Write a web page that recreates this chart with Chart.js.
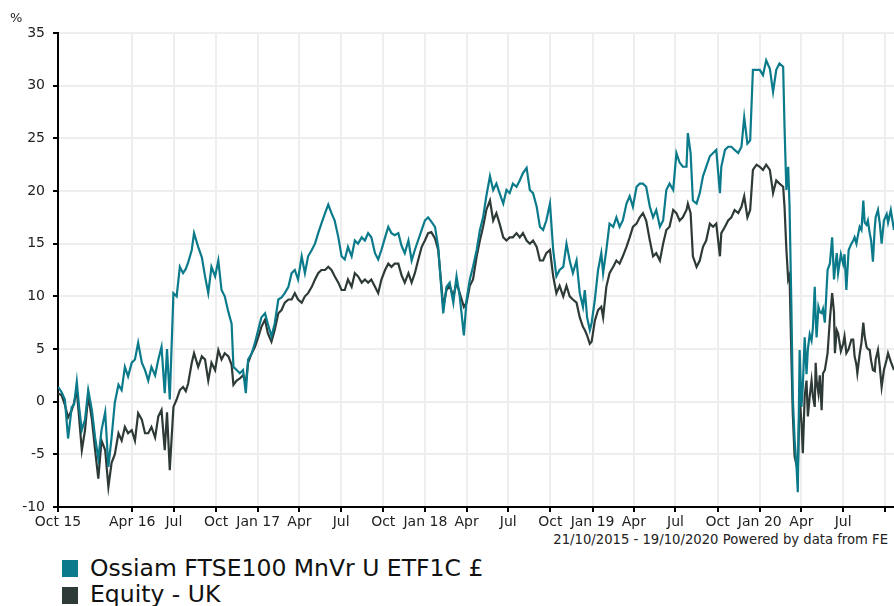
<!DOCTYPE html>
<html>
<head>
<meta charset="utf-8">
<script src="https://cdn.jsdelivr.net/npm/chart.js@4/dist/chart.umd.min.js"></script>
<style>
    body { margin: 0; background: #fff; }
    #wrap { position: relative; width: 894px; height: 606px; overflow: hidden; font-family: "DejaVu Sans", Verdana, sans-serif; color: #222; }
    #myChart { position: absolute; left: 0; top: 0; }
    .txt { position: absolute; white-space: nowrap; }
    .unit { left: 10px; top: 10px; font-size: 13px; line-height: 16px; }
    .source { right: 6px; top: 532px; font-size: 13.2px; line-height: 16px; }
    .leg { left: 90px; font-size: 23.5px; line-height: 27px; color: #111; }
    .box { position: absolute; left: 62px; width: 16px; height: 17px; }
</style>
</head>
<body>
<div id="wrap">
    <canvas id="myChart" width="894" height="532"></canvas>
    <div class="txt unit">%</div>
    <div class="txt source">21/10/2015 - 19/10/2020 Powered by data from FE</div>
    <div class="box" style="top:560px;background:#0b7b8b"></div>
    <div class="txt leg" style="top:555px">Ossiam FTSE100 MnVr U ETF1C £</div>
    <div class="box" style="top:587px;background:#2e3a37"></div>
    <div class="txt leg" style="top:581px">Equity - UK</div>
</div>
<script>
// days since 21/10/2015
var days = [0, 8, 15, 22, 30, 35, 41, 46, 52, 59, 66, 74, 81, 88, 95, 103, 110, 117, 124, 132,
    139, 146, 153, 161, 168, 175, 183, 190, 197, 204, 212, 219, 226, 233, 238, 244, 252, 259, 266, 273,
    279, 284, 292, 297, 306, 314, 321, 328, 335, 343, 350, 357, 364, 372, 379, 383, 390, 397, 404, 410,
    415, 423, 430, 437, 444, 452, 458, 466, 473, 481, 488, 495, 503, 510, 517, 524, 532, 539, 546, 554,
    561, 568, 575, 583, 590, 597, 604, 612, 619, 626, 633, 641, 648, 655, 663, 670, 677, 684, 692, 699,
    706, 714, 721, 728, 735, 743, 750, 757, 765, 772, 779, 786, 794, 801, 808, 815, 823, 830, 837, 841,
    848, 855, 863, 870, 877, 886, 892, 899, 906, 914, 921, 928, 935, 943, 950, 957, 964, 972, 979, 986,
    993, 1001, 1008, 1015, 1023, 1030, 1037, 1045, 1052, 1059, 1066, 1074, 1081, 1088, 1095, 1103, 1110, 1117, 1124, 1132,
    1139, 1146, 1150, 1155, 1161, 1165, 1172, 1179, 1186, 1190, 1197, 1204, 1212, 1219, 1226, 1233, 1241, 1248, 1255, 1263,
    1270, 1277, 1284, 1292, 1299, 1306, 1314, 1321, 1328, 1335, 1343, 1350, 1357, 1364, 1372, 1375, 1381, 1386, 1394, 1401,
    1408, 1415, 1423, 1430, 1437, 1445, 1448, 1456, 1463, 1470, 1477, 1485, 1492, 1498, 1505, 1511, 1517, 1525, 1532, 1539,
    1546, 1554, 1561, 1568, 1575, 1583, 1586, 1590, 1594, 1597, 1601, 1604, 1608, 1612, 1615, 1619, 1623, 1626, 1630, 1634,
    1637, 1641, 1645, 1648, 1652, 1654, 1656, 1660, 1663, 1667, 1670, 1674, 1680, 1685, 1690, 1694, 1696, 1700, 1703, 1709,
    1714, 1717, 1721, 1726, 1732, 1736, 1739, 1743, 1745, 1750, 1754, 1758, 1761, 1765, 1768, 1772, 1775, 1779, 1783, 1785,
    1790, 1794, 1798, 1803, 1809, 1812, 1818, 1825];

var fundValues = [1.4, 0.9, 0.2, -3.5, -0.5, -0.3, 1.9, -0.5, -2.7, -1.7, 1.1, -0.8, -3.4, -5.4, -2.7, -1.0, -6.2, -3.4, -0.1, 1.6,
    1.1, 3.3, 2.4, 3.7, 4.0, 5.6, 3.7, 3.0, 2.0, 3.3, 2.5, 4.0, 5.2, 0.8, 5.0, 0.2, 10.3, 10.0, 12.8, 12.2,
    12.6, 13.2, 14.4, 16.0, 14.7, 13.7, 11.9, 10.3, 12.8, 11.9, 13.4, 10.6, 10.0, 8.5, 7.4, 3.3, 3.0, 2.7, 3.0, 0.8,
    4.0, 4.6, 5.6, 6.8, 8.0, 8.4, 7.4, 6.2, 7.4, 9.7, 9.9, 10.3, 10.9, 12.2, 12.5, 11.6, 13.8, 12.2, 13.8, 14.4,
    15.0, 16.0, 16.9, 17.9, 18.7, 17.9, 17.2, 15.6, 13.8, 13.5, 14.7, 13.8, 15.3, 15.0, 15.6, 15.3, 16.0, 15.6, 14.1, 13.5,
    14.4, 15.6, 16.6, 16.0, 15.8, 16.0, 14.8, 14.1, 15.3, 13.4, 14.4, 15.3, 16.3, 17.2, 17.5, 17.1, 16.6, 14.7, 10.6, 8.4,
    10.9, 11.3, 9.4, 11.9, 10.0, 6.3, 9.7, 11.6, 12.8, 14.4, 16.3, 17.5, 19.5, 21.4, 20.1, 20.7, 19.8, 18.8, 20.1, 19.8,
    20.7, 20.4, 21.0, 21.7, 22.2, 20.1, 19.8, 18.5, 16.6, 16.3, 17.2, 18.8, 14.4, 11.9, 12.5, 12.8, 15.0, 13.4, 12.2, 13.4,
    10.3, 9.0, 10.6, 8.0, 6.8, 7.5, 9.7, 12.5, 14.1, 12.2, 14.4, 16.9, 16.6, 17.5, 16.6, 17.2, 18.8, 19.5, 18.5, 20.4,
    20.7, 20.7, 20.4, 18.5, 17.5, 18.2, 16.6, 17.2, 20.1, 20.7, 20.1, 23.6, 22.7, 22.3, 22.3, 25.5, 23.6, 19.1, 18.8, 19.8,
    21.4, 22.3, 23.3, 23.6, 23.9, 19.8, 22.3, 23.9, 24.2, 24.2, 23.9, 23.6, 24.2, 27.0, 24.5, 24.8, 31.5, 31.5, 31.5, 31.0,
    32.4, 31.6, 29.4, 31.5, 32.1, 31.8, 26.1, 20.1, 22.3, 18.5, 9.0, 0.5, -3.6, -6.0, -8.6, 4.9, -0.5, 1.5, 6.1, 2.6,
    5.0, 6.4, 5.8, 7.0, 10.9, 8.0, 6.1, 9.0, 8.5, 8.4, 8.8, 7.5, 12.5, 13.1, 15.6, 11.6, 12.5, 14.1, 12.2, 14.0,
    13.1, 14.0, 10.6, 14.4, 15.0, 15.3, 15.6, 15.0, 15.5, 16.6, 16.3, 19.1, 17.0, 16.8, 17.2, 16.0, 15.3, 13.3, 16.5, 17.5,
    18.2, 16.9, 15.0, 17.2, 17.8, 17.0, 18.2, 16.3];

var sectorValues = [0.8, 0.6, -0.3, -1.5, -0.8, -0.1, 1.1, -1.5, -4.6, -2.7, 0.6, -1.7, -4.6, -7.3, -3.7, -4.6, -8.1, -5.8, -5.0, -3.0,
    -3.7, -2.4, -3.0, -2.7, -3.7, -1.1, -1.7, -3.0, -3.0, -2.4, -3.4, -1.4, -0.8, -4.6, -1.0, -6.5, -0.5, 0.2, 1.1, 1.4,
    1.0, 1.7, 3.7, 4.6, 3.3, 4.3, 4.0, 2.0, 3.7, 3.0, 4.9, 4.0, 4.6, 4.3, 3.5, 1.6, 2.0, 2.2, 2.5, 1.8,
    3.7, 4.6, 5.2, 6.1, 7.1, 7.8, 6.5, 5.7, 6.8, 8.4, 8.7, 9.4, 9.7, 9.7, 10.3, 9.7, 9.4, 10.0, 10.3, 10.9,
    11.6, 12.2, 12.5, 12.5, 12.8, 12.5, 11.9, 11.3, 10.6, 10.6, 11.6, 10.9, 12.2, 11.9, 11.3, 11.6, 11.3, 11.6, 10.9, 10.3,
    11.6, 12.5, 13.1, 12.8, 13.1, 13.1, 12.0, 11.3, 12.2, 11.3, 12.2, 13.4, 14.7, 15.3, 16.0, 16.1, 15.5, 14.4, 11.0, 9.0,
    10.6, 11.0, 10.0, 11.3, 10.3, 9.0, 9.4, 11.0, 11.6, 13.8, 15.3, 16.6, 18.2, 19.1, 17.2, 17.9, 16.9, 15.6, 15.3, 15.6,
    15.6, 16.0, 15.6, 16.0, 15.3, 15.0, 15.3, 14.7, 13.4, 13.4, 14.1, 14.4, 11.9, 10.3, 11.0, 10.0, 11.0, 10.0, 9.7, 9.4,
    8.0, 7.1, 6.8, 6.3, 5.5, 5.7, 7.7, 8.7, 9.0, 8.0, 10.9, 12.2, 12.8, 13.4, 13.1, 13.8, 14.7, 15.6, 16.6, 16.9,
    17.5, 17.9, 17.2, 15.3, 13.8, 14.1, 13.4, 15.0, 16.3, 16.6, 18.2, 17.9, 17.2, 17.5, 18.2, 18.8, 17.9, 13.8, 12.8, 13.4,
    14.7, 15.3, 16.9, 16.6, 16.9, 13.8, 16.0, 16.6, 17.2, 17.5, 18.2, 17.9, 18.5, 19.5, 17.5, 18.2, 22.0, 22.5, 22.3, 22.0,
    22.5, 22.0, 19.8, 21.0, 20.7, 20.4, 18.5, 14.5, 11.6, 12.0, 4.3, -1.1, -5.2, -6.0, -6.5, 0.5, -2.0, -4.9, 0.5, 2.0,
    -1.4, 0.5, 2.0, 0.5, -0.5, 3.7, 2.0, 0.8, 2.5, -0.8, 2.7, 3.0, 4.6, 7.8, 10.3, 8.5, 4.6, 6.8, 6.5, 4.8,
    5.5, 6.2, 4.6, 5.0, 5.9, 5.9, 4.3, 3.5, 2.7, 4.5, 5.6, 7.5, 6.2, 5.2, 5.0, 4.9, 3.9, 3.0, 2.9, 4.0,
    4.9, 3.3, 1.4, 3.0, 4.0, 4.6, 3.8, 3.0];

var tickDays = [0, 162, 253, 345, 437, 527, 618, 710, 802, 892, 983, 1075, 1167, 1257, 1348, 1440, 1532, 1623, 1714, 1806];
var tickLabels = ["Oct 15", "Apr 16", "Jul", "Oct", "Jan 17", "Apr", "Jul", "Oct", "Jan 18", "Apr",
    "Jul", "Oct", "Jan 19", "Apr", "Jul", "Oct", "Jan 20", "Apr", "Jul", ""];

function toPoints(vals) {
    var result = [];
    for (var i = 0; i < vals.length; i++) {
        result.push({x: days[i], y: vals[i]});
    }
    return result;
}

var tickFont = {family: "'DejaVu Sans', Verdana, sans-serif", size: 14};

var ctx = document.getElementById('myChart').getContext('2d');
var mychart = new Chart(ctx, {
    type: 'line',
    data: {
        datasets: [
            {
                label: "Ossiam FTSE100 MnVr U ETF1C £",
                data: toPoints(fundValues),
                borderColor: "#0b7b8b",
                borderWidth: 2.2,
                pointRadius: 0,
                tension: 0,
                fill: false
            },
            {
                label: "Equity - UK",
                data: toPoints(sectorValues),
                borderColor: "#2e3a37",
                borderWidth: 2.2,
                pointRadius: 0,
                tension: 0,
                fill: false
            }
        ]
    },
    options: {
        responsive: false,
        animation: false,
        layout: {padding: {top: 33, left: 0, right: 0, bottom: 0}},
        plugins: {legend: {display: false}, tooltip: {enabled: false}},
        scales: {
            x: {
                type: 'linear',
                min: 0,
                max: 1825,
                afterFit: function (scale) { scale.height = 25; },
                afterBuildTicks: function (scale) {
                    scale.ticks = tickDays.map(function (d) { return {value: d}; });
                },
                ticks: {
                    autoSkip: false,
                    maxRotation: 0,
                    padding: 2,
                    color: '#222',
                    font: tickFont,
                    callback: function (value) {
                        var i = tickDays.indexOf(value);
                        return i >= 0 ? tickLabels[i] : '';
                    }
                },
                grid: {color: '#eeeeee', lineWidth: 2, tickColor: '#000', tickLength: 5, tickWidth: 2},
                border: {color: '#000', width: 2}
            },
            y: {
                min: -10,
                max: 35,
                afterFit: function (scale) { scale.width = 58; },
                ticks: {stepSize: 5, padding: 8, color: '#222', font: tickFont},
                grid: {color: '#eeeeee', lineWidth: 2, tickColor: '#000', tickLength: 5, tickWidth: 2},
                border: {color: '#000', width: 2}
            }
        }
    }
});
</script>
</body>
</html>
